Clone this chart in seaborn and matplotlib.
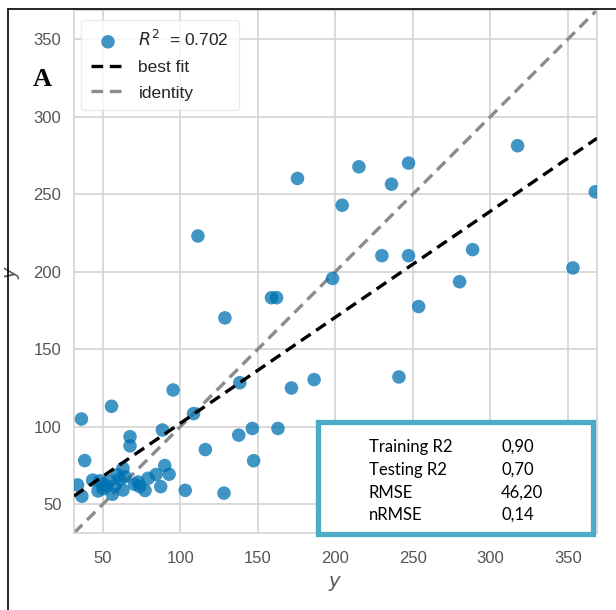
import numpy as np
import pandas as pd
import matplotlib
matplotlib.use("Agg")
import matplotlib.pyplot as plt
from matplotlib.patches import Rectangle
from matplotlib.lines import Line2D
import seaborn as sns

# observed values (x) and predicted values (y)
actual = [111.4, 175.6, 158.8, 162.1, 128.8,
          215.2, 247.2, 236.2, 204.4, 317.5, 367.6,
          230.0, 247.2, 288.5, 198.2, 280.1, 353.2, 253.7, 241.0, 186.3,
          138.4, 171.7, 108.6, 146.5, 163.0, 137.7, 116.2, 147.3, 128.2, 103.2,
          36.3, 55.7, 95.4, 88.5, 67.6, 67.6, 38.4,
          90.0, 92.8, 84.4, 79.3, 87.4, 77.3, 73.9, 70.6, 72.8, 63.1, 64.5, 63.1,
          56.3, 43.5, 36.6, 33.8, 48.1, 50.2, 47.0, 54.5, 57.7, 61.0, 50.2, 59.4, 52.4]
predicted = [223.0, 260.1, 183.2, 183.2, 170.2,
             267.6, 270.0, 256.4, 242.8, 281.2, 251.5,
             210.3, 210.3, 214.2, 195.6, 193.5, 202.4, 177.5, 132.1, 130.4,
             128.4, 125.0, 108.5, 98.9, 98.9, 94.6, 85.3, 78.1, 57.2, 59.0,
             105.0, 113.2, 123.7, 97.9, 93.6, 87.7, 78.2,
             75.0, 69.4, 69.2, 66.8, 61.4, 58.9, 61.4, 62.9, 64.4, 73.2, 67.8, 59.2,
             56.5, 65.6, 55.2, 62.5, 65.1, 60.0, 58.6, 65.1, 61.8, 66.2, 62.9, 69.0, 61.8]

fit_slope = 0.684
fit_intercept = 33.8
r2_text = "0.702"
axis_limits = (31.5, 368.7)
ticks = [50, 100, 150, 200, 250, 300, 350]

stat_names = ["Training R2", "Testing R2", "RMSE", "nRMSE"]
stat_values = ["0,90", "0,70", "46,20", "0,14"]

df = pd.DataFrame({"actual": actual, "predicted": predicted})

sns.set_theme(style="whitegrid")
plt.rcParams["font.family"] = ["Liberation Sans", "DejaVu Sans"]
plt.rcParams["mathtext.fontset"] = "dejavusans"

fig = plt.figure(figsize=(6.16, 6.10), dpi=100)
ax = fig.add_axes([74/616, 1 - 533/610, (597 - 74)/616, (533 - 10)/610])

sns.scatterplot(data=df, x="actual", y="predicted", ax=ax, s=95, color="#0072B2",
                alpha=0.75, edgecolor="none", label=f"$R^2$  = {r2_text}", zorder=3)

lims = np.array(axis_limits)
ax.plot(lims, fit_slope * lims + fit_intercept, color="black", ls=(0, (3.5, 2)), lw=2.4,
        label="best fit", zorder=4)
ax.plot(lims, lims, color="#8c8c8c", ls=(0, (3.5, 2)), lw=2.4, label="identity", zorder=2)

ax.set_xlim(*axis_limits)
ax.set_ylim(*axis_limits)
ax.set_xticks(ticks)
ax.set_yticks(ticks)
ax.grid(True, color="#d3d3d3", lw=1.2)
for sp in ax.spines.values():
    sp.set_color("#d3d3d3")
    sp.set_linewidth(1.2)
ax.tick_params(labelsize=12, colors="#555555")
ax.tick_params(axis="x", pad=7)
ax.tick_params(axis="y", pad=3)

ax.set_xlabel("$y$", fontsize=14, color="#555555")
ax.set_ylabel("$y$", fontsize=14, color="#555555")
ax.xaxis.set_label_coords(0.5, -0.078)
ax.yaxis.set_label_coords(-0.100, 0.5)

leg = ax.legend(loc="upper left", fontsize=12.5, frameon=True, handlelength=2.0,
                borderpad=0.55, labelspacing=0.6, handletextpad=0.75,
                bbox_to_anchor=(-0.003, 0.998))
leg.get_frame().set_facecolor("white")
leg.get_frame().set_alpha(0.8)
leg.get_frame().set_edgecolor("#e6e6e6")

fig.text(42/616, 1 - 80/610, "A", family=["Liberation Serif", "DejaVu Serif"],
         fontsize=19, fontweight="bold", ha="center", va="center", color="black")

# stats box
box = Rectangle((318/616, 1 - 534/610), (593 - 318)/616, (534 - 422)/610,
                transform=fig.transFigure, facecolor="white", edgecolor="#4bacc6",
                lw=3.8, zorder=10)
fig.add_artist(box)
ys = [446.7, 470.0, 492.7, 515.0]
for name, val, yy in zip(stat_names, stat_values, ys):
    fig.text(369/616, 1 - yy/610, name, fontsize=12, family=["Lato", "DejaVu Sans"],
             va="center", ha="left", color="black", zorder=11)
    fig.text(501/616, 1 - yy/610, val, fontsize=12, family=["Lato", "DejaVu Sans"],
             va="center", ha="left", color="black", zorder=11)

# outer frame lines (left and top)
fig.add_artist(Line2D([8/616, 8/616], [0, 1 - 9/610], transform=fig.transFigure,
                      color="black", lw=1.2))
fig.add_artist(Line2D([8/616, 1], [1 - 9/610, 1 - 9/610], transform=fig.transFigure,
                      color="black", lw=1.2))

fig.savefig("out.png", dpi=100, facecolor="white")
